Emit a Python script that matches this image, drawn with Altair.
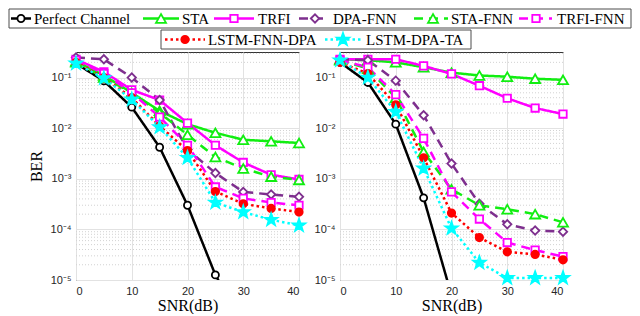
import altair as alt
import pandas as pd

# ---------------- data ----------------
snr = [0, 5, 10, 15, 20, 25, 30, 35, 40]
names = ["Perfect Channel", "STA", "TRFI", "DPA-FNN", "STA-FNN", "TRFI-FNN",
         "LSTM-FNN-DPA", "LSTM-DPA-TA"]

# left panel
perfect_L = [0.19, 0.086, 0.026, 0.0042, 3.0e-4, 1.26e-5, 1.3e-6, None, None]
sta_L = [0.21, 0.11, 0.05, 0.022, 0.012, 0.0081, 0.0059, 0.0055, 0.0051]
trfi_L = [0.23, 0.13, 0.057, 0.036, 0.0126, 0.0046, 0.0021, 0.0012, 0.00097]
dpafnn_L = [0.25, 0.23, 0.1, 0.036, 0.0038, 0.0013, 5.5e-4, 4.9e-4, 4.4e-4]
stafnn_L = [0.2, 0.1, 0.05, 0.02, 0.0074, 0.0027, 0.0016, 0.0011, 0.00095]
trfifnn_L = [0.22, 0.12, 0.05, 0.0166, 0.0046, 6.9e-4, 4.1e-4, 3.4e-4, 3.0e-4]
lstmfnn_L = [0.2, 0.1, 0.04, 0.011, 0.0036, 5.6e-4, 3.2e-4, 2.6e-4, 2.2e-4]
lstmta_L = [0.19, 0.097, 0.037, 0.0105, 0.0026, 3.4e-4, 2.2e-4, 1.55e-4, 1.2e-4]

# right panel
perfect_R = [0.2, 0.08, 0.012, 4.2e-4, 5e-6, None, None, None, None]
sta_R = [0.23, 0.22, 0.2, 0.16, 0.125, 0.11, 0.104, 0.095, 0.09]
trfi_R = [0.23, 0.23, 0.23, 0.17, 0.118, 0.069, 0.039, 0.025, 0.019]
dpafnn_R = [0.23, 0.22, 0.087, 0.018, 0.002, 3.2e-4, 1.26e-4, 9.5e-5, 9.0e-5]
stafnn_R = [0.22, 0.15, 0.04, 0.0034, 6.2e-4, 3.0e-4, 2.5e-4, 2.0e-4, 1.38e-4]
trfifnn_R = [0.22, 0.16, 0.046, 0.0063, 5.5e-4, 1.6e-4, 5.5e-5, 3.9e-5, 2.9e-5]
lstmfnn_R = [0.2, 0.12, 0.029, 0.0026, 2.1e-4, 6.9e-5, 3.6e-5, 3.2e-5, 2.5e-5]
lstmta_R = [0.22, 0.1, 0.021, 0.0016, 1.05e-4, 2.2e-5, 1.1e-5, 1.1e-5, 1.1e-5]

x_ticks = [0, 10, 20, 30, 40]
y_ticks = [1e-5, 1e-4, 1e-3, 1e-2, 1e-1]
y_minor = [m * 10.0 ** e for e in range(-5, 0) for m in range(2, 10) if m * 10.0 ** e < 0.32]

# ---------------- styles ----------------
STAR = ("M0,-1L0.235,-0.324L0.951,-0.309L0.38,0.124L0.588,0.809L0,0.4"
        "L-0.588,0.809L-0.38,0.124L-0.951,-0.309L-0.235,-0.324Z")
colors = ["#000000", "#11ee11", "#ff00ff", "#7e2f8e", "#11ee11", "#ff00ff", "#ff0000", "#00ffff"]
dashes = [[1, 0], [1, 0], [1, 0], [9, 6], [9, 6], [9, 6], [2.5, 3], [2.5, 3]]
shapes = ["circle", "triangle-up", "square", "diamond", "triangle-up", "square", "circle", STAR]
fills = ["#ffffff", "#ffffff", "#ffffff", "#ffffff", "#ffffff", "#ffffff", "#ff0000", "#00ffff"]
sizes = [50, 100, 55, 70, 100, 55, 55, 170]

W, H = 223, 228
YDOM = [1e-5, 0.32]

stroke_enc = alt.Stroke("series:N", scale=alt.Scale(domain=names, range=colors), legend=None)
dash_enc = alt.StrokeDash("series:N", scale=alt.Scale(domain=names, range=dashes), legend=None)
shape_enc = alt.Shape("series:N", scale=alt.Scale(domain=names, range=shapes), legend=None)
fill_enc = alt.Fill("series:N", scale=alt.Scale(domain=names, range=fills), legend=None)
size_enc = alt.Size("series:N", scale=alt.Scale(type="ordinal", domain=names, range=sizes),
                    legend=None)

label_expr = ("datum.value>0.05?'10⁻¹':datum.value>0.005?'10⁻²':"
              "datum.value>0.0005?'10⁻³':datum.value>0.00005?'10⁻⁴':'10⁻⁵'")


def yenc(field, title):
    ax = dict(values=y_ticks, labelExpr=label_expr,
              grid=True, gridColor="#e2e2e2", ticks=False, domain=False,
              labelFont="Liberation Sans", labelFontSize=11,
              labelColor="#262626", labelPadding=5)
    if title:
        ax.update(title=title, titleFont="Liberation Serif", titleFontSize=16,
                  titleFontWeight="normal", titleColor="#000000", titlePadding=6)
    else:
        ax.update(title="")
    return alt.Y(field, type="quantitative",
                 scale=alt.Scale(type="log", domain=YDOM, nice=False),
                 axis=alt.Axis(**ax))


xenc = alt.X("snr:Q", scale=alt.Scale(domain=[0, 40], nice=False, zero=False),
             axis=alt.Axis(values=x_ticks, title="SNR(dB)", grid=True, gridColor="#e2e2e2",
                           ticks=False, domain=False, labelFont="Liberation Sans",
                           labelFontSize=11, labelColor="#262626", labelPadding=5,
                           titleFont="Liberation Serif", titleFontSize=16,
                           titleFontWeight="normal", titleColor="#000000", titlePadding=1))


def panel_df(series_lists):
    rows = []
    for name, vals in zip(names, series_lists):
        for s, v in zip(snr, vals):
            rows.append({"snr": s, "ber": v, "series": name})
    return pd.DataFrame(rows)


def panel(df, title, with_legend=False):
    minor = alt.Chart(pd.DataFrame({"v": y_minor})).mark_rule(
        color="#d2d2d2", strokeDash=[1, 2], strokeWidth=1).encode(y=yenc("v", title))
    lines = alt.Chart(df).mark_line(strokeWidth=2.5, clip=True).encode(
        x=xenc, y=yenc("ber", title), stroke=stroke_enc, strokeDash=dash_enc,
        detail="series:N", order="snr:Q")
    pts = alt.Chart(df).transform_filter("isValid(datum.ber) && datum.ber >= 0.00001").mark_point(
        filled=True, opacity=1, strokeWidth=1.8).encode(
        x=xenc, y=yenc("ber", title), stroke=stroke_enc, fill=fill_enc, shape=shape_enc,
        size=size_enc)
    layers = [minor, lines, pts]
    if with_legend:
        layers += legend_layers()
    return alt.layer(*layers).properties(width=W, height=H)


# ---------------- custom legend (page layout -> plot-relative px) ----------------
OX, OY = 75, 51
leg_rows = [1, 1, 1, 1, 1, 1, 2, 2]
leg_line_x1 = [10, 142, 213, 298, 413, 518, 164, 324]
leg_line_x2 = [30, 178, 253, 328, 447, 551, 204, 362]
leg_mark_x = [20, 160, 233, 314, 432, 535, 184, 342]
leg_text_x = [33, 181, 257, 332, 450, 556, 207, 365]
row_y = {1: 17.5, 2: 38.5}
box_x1 = [8, 160]
box_x2 = [630, 470]
box_y1 = [8, 29]
box_y2 = [27, 48]


def legend_layers():
    ld = pd.DataFrame({
        "series": names,
        "x1": [v - OX for v in leg_line_x1],
        "x2": [v - OX for v in leg_line_x2],
        "xm": [v - OX for v in leg_mark_x],
        "xt": [v - OX for v in leg_text_x],
        "y": [row_y[r] - OY for r in leg_rows],
    })
    bd = pd.DataFrame({
        "x1": [v - OX for v in box_x1], "x2": [v - OX for v in box_x2],
        "y1": [v - OY for v in box_y1], "y2": [v - OY for v in box_y2],
    })
    boxes = alt.Chart(bd).mark_rect(fill="#ffffff", stroke="#4d4d4d", strokeWidth=1).encode(
        x=alt.X("x1:Q", scale=None), x2="x2:Q", y=alt.Y("y1:Q", scale=None), y2="y2:Q")
    llines = alt.Chart(ld).mark_rule(strokeWidth=2.5).encode(
        x=alt.X("x1:Q", scale=None), x2="x2:Q", y=alt.Y("y:Q", scale=None),
        stroke=stroke_enc, strokeDash=dash_enc)
    lpts = alt.Chart(ld).mark_point(filled=True, opacity=1, strokeWidth=1.8).encode(
        x=alt.X("xm:Q", scale=None), y=alt.Y("y:Q", scale=None),
        stroke=stroke_enc, fill=fill_enc, shape=shape_enc, size=size_enc)
    ltext = alt.Chart(ld).mark_text(align="left", baseline="middle", font="Liberation Serif",
                                    fontSize=15, color="#000000").encode(
        x=alt.X("xt:Q", scale=None), y=alt.Y("y:Q", scale=None), text="series:N")
    return [boxes, llines, lpts, ltext]


left = panel(panel_df([perfect_L, sta_L, trfi_L, dpafnn_L, stafnn_L, trfifnn_L,
                       lstmfnn_L, lstmta_L]), "BER", with_legend=True)
right = panel(panel_df([perfect_R, sta_R, trfi_R, dpafnn_R, stafnn_R, trfifnn_R,
                        lstmfnn_R, lstmta_R]), None)

chart = alt.hconcat(left, right, spacing=41, bounds="flush").properties(
    padding={"left": 0, "top": 0, "right": 0, "bottom": 0}
).configure_view(stroke="#333333", strokeWidth=1)

chart.save("out.html", embed_options={"renderer": "svg", "actions": False})
